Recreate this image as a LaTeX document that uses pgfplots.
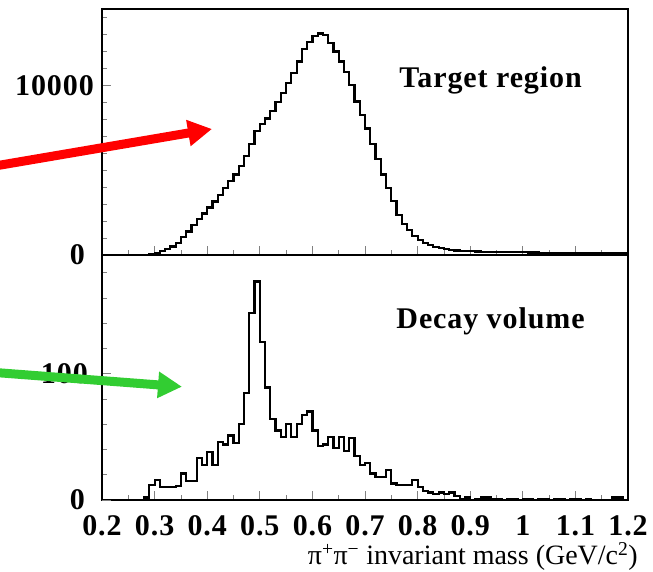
\documentclass[border=0pt]{standalone}
\usepackage{fontspec}
\setmainfont{Liberation Serif}
\newfontfamily\spacedfont[LetterSpace=3]{Liberation Serif}
\usepackage{pgfplots}
\usepackage{pgfplotstable}
\pgfplotsset{compat=1.18}
\usetikzlibrary{arrows.meta}
\definecolor{arrowgreen}{RGB}{50,205,50}
\definecolor{arrowred}{RGB}{255,0,0}

\pgfplotstableread{
x y
0.20 0
0.21 0
0.22 0
0.23 0
0.24 0
0.25 0
0.26 0
0.27 0
0.28 10
0.29 50
0.30 130
0.31 230
0.32 350
0.33 500
0.34 720
0.35 1050
0.36 1380
0.37 1750
0.38 2100
0.39 2450
0.40 2800
0.41 3150
0.42 3550
0.43 3950
0.44 4350
0.45 4750
0.46 5250
0.47 5850
0.48 6550
0.49 7300
0.50 7700
0.51 8050
0.52 8500
0.53 9000
0.54 9550
0.55 10150
0.56 10750
0.57 11400
0.58 12150
0.59 12550
0.60 12900
0.61 13060
0.62 12950
0.63 12500
0.64 12000
0.65 11400
0.66 10800
0.67 10000
0.68 9050
0.69 8250
0.70 7450
0.71 6550
0.72 5650
0.73 4750
0.74 3950
0.75 3200
0.76 2350
0.77 1850
0.78 1450
0.79 1100
0.80 880
0.81 720
0.82 600
0.83 490
0.84 400
0.85 330
0.86 290
0.87 260
0.88 240
0.89 225
0.90 215
0.91 205
0.92 195
0.93 190
0.94 185
0.95 180
0.96 175
0.97 170
0.98 165
0.99 160
1.00 155
1.01 150
1.02 145
1.03 140
1.04 138
1.05 135
1.06 130
1.07 128
1.08 125
1.09 122
1.10 120
1.11 118
1.12 115
1.13 112
1.14 110
1.15 108
1.16 105
1.17 102
1.18 100
1.19 98
1.20 98
}\targettable

\pgfplotstableread{
x y
0.20 0
0.21 0
0.22 0
0.23 0
0.24 0
0.25 0
0.26 0
0.27 0
0.28 2
0.29 12
0.30 16
0.31 10
0.32 10
0.33 10
0.34 11
0.35 21
0.36 15
0.37 15
0.38 33
0.39 28
0.40 38
0.41 28
0.42 46
0.43 44
0.44 51
0.45 45
0.46 60
0.47 85
0.48 148
0.49 173
0.50 125
0.51 89
0.52 64
0.53 55
0.54 50
0.55 60
0.56 50
0.57 60
0.58 67
0.59 70
0.60 55
0.61 43
0.62 44
0.63 50
0.64 41
0.65 50
0.66 39
0.67 49
0.68 35
0.69 28
0.70 29
0.71 21
0.72 18
0.73 18
0.74 24
0.75 13
0.76 12
0.77 12
0.78 12
0.79 16
0.80 10
0.81 7
0.82 6
0.83 5
0.84 6
0.85 5
0.86 6
0.87 3
0.88 1
0.89 2
0.90 0
0.91 1
0.92 2
0.93 2
0.94 1
0.95 1
0.96 0
0.97 1
0.98 1
0.99 0
1.00 1
1.01 1
1.02 0
1.03 1
1.04 1
1.05 0
1.06 1
1.07 1
1.08 0
1.09 1
1.10 1
1.11 0
1.12 1
1.13 0
1.14 0
1.15 0
1.16 0
1.17 2
1.18 2
1.19 0
1.20 0
}\decaytable

\begin{document}
\begin{tikzpicture}[x=1pt,y=1pt]
\useasboundingbox (0,0) rectangle (653,572);
\pgfplotsset{
  panel/.style={
    scale only axis, width=526pt,
    xmin=0.2, xmax=1.2,
    axis line style={line width=2.4pt, black},
    xtick={0.2,0.3,0.4,0.5,0.6,0.7,0.8,0.9,1.0,1.1,1.2},
    minor x tick num=1,
    xtick pos=left, ytick pos=left,
    major tick length=9pt, minor tick length=5pt,
    tick style={gray, line width=0.8pt},
    /pgf/number format/assume math mode=true,
    scaled ticks=false,
    ticklabel style={font=\fontsize{30}{30}\spacedfont\bfseries, inner sep=0pt},
    xticklabel style={anchor=north, yshift=-15pt},
    yticklabel style={anchor=east, xshift=-8pt},
  }
}
\begin{axis}[panel, at={(102pt,317pt)}, anchor=south west, height=246pt,
  ymin=0, ymax=14500, ytick={10000}, yticklabels={10000},
  extra y ticks={0}, extra y tick labels={0},
  extra y tick style={yticklabel style={xshift=-9pt}},
  minor ytick={1000,2000,3000,4000,5000,6000,7000,8000,9000,11000,12000,13000,14000},
  xticklabels={}]
\addplot[const plot, line width=2.2pt, black] table[x=x,y=y] {\targettable};
\node[font=\fontsize{30}{30}\spacedfont\bfseries, anchor=base, inner sep=0pt]
  at (rel axis cs:0.7386,0.679) {Target region};
\end{axis}
\begin{axis}[panel, at={(102pt,72pt)}, anchor=south west, height=245pt,
  ymin=0, ymax=194, ytick={100}, yticklabels={100},
  yticklabel style={xshift=-6pt},
  extra y ticks={0}, extra y tick labels={0},
  extra y tick style={yticklabel style={xshift=-3pt}},
  minor ytick={20,40,60,80,120,140,160,180},
  xticklabels={0.2,0.3,0.4,0.5,0.6,0.7,0.8,0.9,1,1.1,1.2},
  xlabel={π\textsuperscript{+}π\textsuperscript{−} invariant mass (GeV/c\textsuperscript{2})},
  xlabel style={font=\fontsize{28}{28}\selectfont, at={(rel axis cs:1,0)}, anchor=base east, inner sep=0pt, xshift=10pt, yshift=-64.5pt}]
\addplot[const plot, line width=2.2pt, black] table[x=x,y=y] {\decaytable};
\node[font=\fontsize{30}{30}\spacedfont\bfseries, anchor=base, inner sep=0pt]
  at (rel axis cs:0.7386,0.698) {Decay volume};
\end{axis}
\draw[arrowred, line width=9pt, -{Triangle[length=24pt, width=25pt]}] (-5,406) -- (212,443);
\draw[arrowgreen, line width=9pt, -{Triangle[length=24pt, width=25pt]}] (-5,199.5) -- (182,185.3);
\end{tikzpicture}
\end{document}
